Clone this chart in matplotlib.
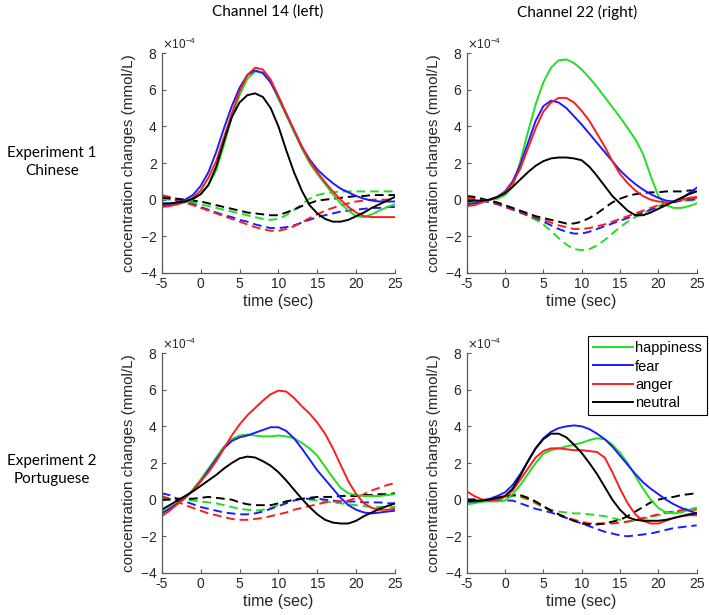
import matplotlib
matplotlib.use("Agg")
import matplotlib.pyplot as plt
from matplotlib.ticker import ScalarFormatter
from matplotlib.lines import Line2D

# time axis (sec) and unit of the values below
time = list(range(-5, 26))
SCALE = 1e-4

# Experiment 1 (Chinese), channel 14 - solid = oxy, dashed = deoxy
e1c14_hap = [-0.3, -0.3, -0.25, -0.15, 0.0, 0.3, 0.8, 1.6, 3.0, 4.5, 5.7, 6.6, 7.0, 6.95, 6.4, 5.5,
             4.6, 3.7, 2.8, 2.0, 1.4, 0.85, 0.3, -0.2, -0.6, -0.9, -0.95, -0.8, -0.6, -0.4, -0.25]
e1c14_fear = [-0.3, -0.25, -0.15, 0.0, 0.25, 0.75, 1.5, 2.6, 3.9, 5.1, 6.1, 6.8, 7.05, 6.9, 6.4, 5.6,
              4.7, 3.8, 2.9, 2.2, 1.65, 1.25, 0.9, 0.6, 0.4, 0.2, 0.05, -0.05, -0.1, -0.1, -0.1]
e1c14_ang = [-0.4, -0.35, -0.25, -0.1, 0.1, 0.5, 1.2, 2.1, 3.4, 4.7, 5.9, 6.8, 7.2, 7.1, 6.55, 5.65,
             4.7, 3.8, 2.9, 2.1, 1.5, 0.95, 0.45, 0.0, -0.4, -0.7, -0.9, -0.95, -0.95, -0.95, -0.95]
e1c14_neu = [-0.2, -0.2, -0.15, -0.1, 0.05, 0.3, 0.8, 1.8, 3.2, 4.5, 5.3, 5.7, 5.8, 5.6, 5.0, 4.0,
             2.7, 1.5, 0.5, -0.3, -0.75, -1.05, -1.2, -1.2, -1.1, -0.9, -0.7, -0.45, -0.25, -0.05, 0.15]
e1c14_hap_d = [0.05, 0.0, -0.05, -0.1, -0.15, -0.25, -0.35, -0.45, -0.55, -0.65, -0.75, -0.85, -0.95, -1.05, -1.1, -1.05,
               -0.85, -0.55, -0.25, 0.05, 0.25, 0.35, 0.4, 0.45, 0.45, 0.45, 0.45, 0.45, 0.45, 0.45, 0.45]
e1c14_fear_d = [0.15, 0.05, -0.05, -0.15, -0.25, -0.4, -0.55, -0.7, -0.85, -0.95, -1.1, -1.2, -1.35, -1.45, -1.55, -1.55,
                -1.5, -1.4, -1.25, -1.1, -0.95, -0.85, -0.75, -0.65, -0.6, -0.55, -0.5, -0.45, -0.45, -0.4, -0.4]
e1c14_ang_d = [0.25, 0.15, 0.0, -0.15, -0.3, -0.45, -0.6, -0.75, -0.9, -1.05, -1.2, -1.35, -1.5, -1.6, -1.7, -1.7,
               -1.6, -1.45, -1.25, -1.0, -0.8, -0.6, -0.45, -0.3, -0.2, -0.1, -0.05, 0.0, 0.0, 0.0, 0.0]
e1c14_neu_d = [0.1, 0.1, 0.05, 0.0, -0.05, -0.1, -0.2, -0.3, -0.4, -0.5, -0.6, -0.7, -0.75, -0.8, -0.85, -0.85,
               -0.7, -0.55, -0.35, -0.2, -0.05, 0.0, 0.05, 0.1, 0.15, 0.2, 0.2, 0.25, 0.25, 0.25, 0.25]

# Experiment 1 (Chinese), channel 22
e1c22_hap = [-0.2, -0.15, -0.05, 0.0, 0.05, 0.25, 0.7, 2.1, 3.7, 5.2, 6.4, 7.2, 7.6, 7.65, 7.45, 7.1,
             6.65, 6.15, 5.6, 5.05, 4.5, 3.9, 3.3, 2.5, 1.3, 0.2, -0.3, -0.45, -0.45, -0.35, -0.2]
e1c22_fear = [-0.25, -0.2, -0.1, 0.0, 0.15, 0.45, 1.0, 1.9, 3.1, 4.3, 5.1, 5.4, 5.3, 5.0, 4.55, 4.1,
              3.6, 3.1, 2.6, 2.1, 1.6, 1.2, 0.85, 0.55, 0.3, 0.1, -0.05, -0.1, 0.05, 0.35, 0.65]
e1c22_ang = [-0.35, -0.3, -0.15, 0.0, 0.15, 0.4, 0.9, 1.7, 2.8, 3.9, 4.8, 5.3, 5.55, 5.55, 5.3, 4.85,
             4.3, 3.6, 2.9, 2.1, 1.4, 0.9, 0.5, 0.2, 0.0, -0.1, -0.15, -0.1, 0.0, 0.1, 0.15]
e1c22_neu = [-0.1, -0.05, -0.05, 0.0, 0.15, 0.35, 0.7, 1.1, 1.5, 1.85, 2.1, 2.25, 2.3, 2.3, 2.25, 2.15,
             1.8, 1.3, 0.75, 0.2, -0.2, -0.6, -0.85, -0.85, -0.7, -0.5, -0.3, -0.1, 0.1, 0.3, 0.45]
e1c22_hap_d = [0.0, 0.0, -0.05, -0.1, -0.2, -0.35, -0.5, -0.7, -0.9, -1.1, -1.35, -1.7, -2.1, -2.45, -2.7, -2.75,
               -2.7, -2.5, -2.2, -1.85, -1.5, -1.2, -0.95, -0.75, -0.55, -0.35, -0.2, -0.1, -0.05, -0.05, -0.05]
e1c22_fear_d = [0.05, 0.0, -0.05, -0.15, -0.25, -0.4, -0.55, -0.7, -0.85, -1.0, -1.2, -1.4, -1.6, -1.75, -1.85, -1.85,
                -1.75, -1.6, -1.45, -1.3, -1.15, -1.0, -0.85, -0.7, -0.55, -0.4, -0.25, -0.15, -0.05, 0.0, 0.0]
e1c22_ang_d = [0.1, 0.05, 0.0, -0.1, -0.2, -0.35, -0.5, -0.65, -0.8, -0.95, -1.1, -1.25, -1.4, -1.5, -1.6, -1.6,
               -1.55, -1.45, -1.35, -1.2, -1.05, -0.9, -0.75, -0.6, -0.45, -0.3, -0.2, -0.1, 0.0, 0.05, 0.1]
e1c22_neu_d = [0.2, 0.15, 0.05, -0.05, -0.15, -0.3, -0.45, -0.6, -0.75, -0.9, -1.0, -1.1, -1.2, -1.3, -1.3, -1.2,
               -1.0, -0.75, -0.45, -0.15, 0.05, 0.2, 0.3, 0.35, 0.4, 0.4, 0.45, 0.45, 0.45, 0.5, 0.5]

# Experiment 2 (Portuguese), channel 14
e2c14_hap = [-0.7, -0.45, -0.2, 0.1, 0.55, 1.1, 1.7, 2.3, 2.9, 3.3, 3.5, 3.55, 3.5, 3.45, 3.45, 3.5,
             3.45, 3.35, 3.1, 2.8, 2.4, 1.8, 1.2, 0.65, 0.35, 0.25, 0.2, 0.2, 0.2, 0.25, 0.3]
e2c14_fear = [-0.75, -0.5, -0.2, 0.1, 0.5, 1.0, 1.6, 2.2, 2.8, 3.2, 3.4, 3.5, 3.65, 3.8, 3.95, 3.95,
              3.75, 3.35, 2.8, 2.2, 1.6, 1.1, 0.6, 0.1, -0.3, -0.55, -0.7, -0.75, -0.7, -0.65, -0.6]
e2c14_ang = [-0.9, -0.6, -0.25, 0.1, 0.5, 1.0, 1.5, 2.1, 2.8, 3.5, 4.1, 4.6, 5.0, 5.4, 5.75, 5.95,
             5.9, 5.55, 5.1, 4.7, 4.2, 3.6, 2.8, 1.9, 1.0, 0.3, -0.2, -0.45, -0.55, -0.55, -0.5]
e2c14_neu = [-0.55, -0.3, -0.05, 0.2, 0.45, 0.75, 1.05, 1.35, 1.7, 2.0, 2.25, 2.35, 2.3, 2.1, 1.85, 1.5,
             1.05, 0.55, 0.05, -0.4, -0.8, -1.1, -1.25, -1.3, -1.3, -1.15, -0.9, -0.7, -0.5, -0.35, -0.2]
e2c14_hap_d = [0.1, 0.05, 0.0, 0.0, -0.05, -0.1, -0.15, -0.2, -0.3, -0.4, -0.5, -0.55, -0.6, -0.55, -0.45, -0.3,
               -0.1, 0.0, 0.05, 0.0, -0.05, -0.1, -0.15, -0.2, -0.25, -0.3, -0.35, -0.4, -0.4, -0.4, -0.4]
e2c14_fear_d = [0.35, 0.25, 0.05, -0.1, -0.25, -0.4, -0.5, -0.6, -0.7, -0.75, -0.8, -0.8, -0.75, -0.65, -0.5, -0.35,
                -0.2, -0.05, 0.05, 0.05, 0.05, 0.0, -0.05, -0.1, -0.1, -0.1, -0.15, -0.15, -0.15, -0.2, -0.2]
e2c14_ang_d = [0.2, 0.05, -0.1, -0.3, -0.45, -0.6, -0.75, -0.85, -0.95, -1.05, -1.1, -1.1, -1.05, -1.0, -0.9, -0.8,
               -0.7, -0.55, -0.45, -0.35, -0.25, -0.15, -0.1, -0.1, -0.05, 0.1, 0.3, 0.5, 0.65, 0.8, 0.9]
e2c14_neu_d = [0.0, 0.0, 0.05, 0.05, 0.05, 0.1, 0.15, 0.1, 0.05, 0.0, -0.15, -0.25, -0.3, -0.3, -0.3, -0.2,
               -0.1, 0.0, 0.05, 0.1, 0.15, 0.15, 0.15, 0.2, 0.2, 0.2, 0.25, 0.25, 0.3, 0.3, 0.35]

# Experiment 2 (Portuguese), channel 22
e2c22_hap = [-0.25, -0.2, -0.1, -0.1, -0.1, -0.05, 0.3, 0.8, 1.4, 2.0, 2.5, 2.7, 2.8, 2.9, 3.0, 3.1,
             3.25, 3.35, 3.3, 3.0, 2.55, 2.0, 1.3, 0.6, 0.0, -0.45, -0.7, -0.75, -0.7, -0.55, -0.45]
e2c22_fear = [-0.1, -0.1, -0.05, 0.05, 0.2, 0.4, 0.8, 1.4, 2.1, 2.8, 3.35, 3.7, 3.9, 4.0, 4.05, 4.0,
              3.85, 3.6, 3.3, 2.9, 2.4, 1.9, 1.4, 0.95, 0.6, 0.3, 0.0, -0.25, -0.45, -0.6, -0.75]
e2c22_ang = [0.45, 0.2, 0.0, -0.05, 0.0, 0.15, 0.5, 1.1, 1.7, 2.3, 2.65, 2.8, 2.8, 2.75, 2.7, 2.7,
             2.65, 2.6, 2.3, 1.5, 0.6, -0.2, -0.8, -1.15, -1.3, -1.3, -1.15, -1.0, -0.9, -0.85, -0.85]
e2c22_neu = [-0.1, -0.05, -0.05, 0.0, 0.1, 0.2, 0.6, 1.3, 2.1, 2.8, 3.3, 3.6, 3.6, 3.4, 3.0, 2.55,
             2.0, 1.4, 0.7, 0.0, -0.55, -0.95, -1.1, -1.15, -1.15, -1.15, -1.1, -1.0, -0.9, -0.8, -0.75]
e2c22_hap_d = [-0.2, -0.15, -0.1, -0.05, 0.0, 0.1, 0.2, 0.15, 0.0, -0.2, -0.4, -0.55, -0.65, -0.7, -0.75, -0.75,
               -0.8, -0.85, -0.9, -1.0, -1.1, -1.2, -1.15, -1.05, -0.95, -0.85, -0.75, -0.65, -0.55, -0.5, -0.45]
e2c22_fear_d = [0.0, 0.0, -0.05, -0.05, -0.05, -0.05, -0.05, -0.2, -0.35, -0.5, -0.6, -0.7, -0.85, -1.0, -1.15, -1.3,
                -1.45, -1.6, -1.75, -1.85, -1.95, -2.0, -1.95, -1.9, -1.85, -1.75, -1.65, -1.55, -1.5, -1.45, -1.4]
e2c22_ang_d = [0.0, 0.0, 0.0, 0.0, 0.1, 0.2, 0.25, 0.2, 0.05, -0.15, -0.4, -0.6, -0.8, -0.95, -1.1, -1.2,
               -1.3, -1.3, -1.3, -1.3, -1.25, -1.2, -1.1, -1.0, -0.9, -0.8, -0.7, -0.65, -0.6, -0.55, -0.55]
e2c22_neu_d = [0.0, 0.0, -0.05, -0.05, 0.05, 0.15, 0.25, 0.25, 0.1, -0.1, -0.35, -0.6, -0.8, -1.0, -1.15, -1.3,
               -1.35, -1.35, -1.3, -1.2, -1.1, -0.9, -0.65, -0.4, -0.15, 0.0, 0.1, 0.15, 0.25, 0.3, 0.35]

emotions = ["happiness", "fear", "anger", "neutral"]
colors = ["#22dd22", "#1c1cff", "#ff1c1c", "black"]

panels = [
    ([e1c14_hap, e1c14_fear, e1c14_ang, e1c14_neu], [e1c14_hap_d, e1c14_fear_d, e1c14_ang_d, e1c14_neu_d]),
    ([e1c22_hap, e1c22_fear, e1c22_ang, e1c22_neu], [e1c22_hap_d, e1c22_fear_d, e1c22_ang_d, e1c22_neu_d]),
    ([e2c14_hap, e2c14_fear, e2c14_ang, e2c14_neu], [e2c14_hap_d, e2c14_fear_d, e2c14_ang_d, e2c14_neu_d]),
    ([e2c22_hap, e2c22_fear, e2c22_ang, e2c22_neu], [e2c22_hap_d, e2c22_fear_d, e2c22_ang_d, e2c22_neu_d]),
]

plt.rcParams["font.family"] = ["Liberation Sans", "DejaVu Sans"]
plt.rcParams["axes.unicode_minus"] = False

fig = plt.figure(figsize=(7.09, 6.15), dpi=100)
boxes = [
    [0.2282, 0.5561, 0.3290, 0.3577],
    [0.6582, 0.5561, 0.3244, 0.3577],
    [0.2282, 0.0683, 0.3290, 0.3577],
    [0.6582, 0.0683, 0.3244, 0.3577],
]
axes_gray = "#5a5a5a"

for i, (solid, dashed) in enumerate(panels):
    ax = fig.add_axes(boxes[i])
    for vals, c in zip(dashed, colors):
        ax.plot(time, [v * SCALE for v in vals], color=c, lw=1.4, dashes=(4.5, 2.5))
    for vals, c in zip(solid, colors):
        ax.plot(time, [v * SCALE for v in vals], color=c, lw=1.4)
    ax.set_xlim(-5, 25)
    ax.set_ylim(-4 * SCALE, 8 * SCALE)
    ax.set_xticks(range(-5, 26, 5))
    ax.set_yticks([k * SCALE for k in range(-4, 9, 2)])
    fmt = ScalarFormatter(useMathText=True)
    fmt.set_powerlimits((-1, 1))
    ax.yaxis.set_major_formatter(fmt)
    ax.yaxis.get_offset_text().set_fontsize(8.5)
    ax.yaxis.get_offset_text().set_color("#333333")
    for s in ["top", "right"]:
        ax.spines[s].set_visible(False)
    for s in ["left", "bottom"]:
        ax.spines[s].set_color(axes_gray)
        ax.spines[s].set_linewidth(0.9)
    ax.tick_params(direction="in", length=3, width=0.8, color=axes_gray,
                   labelsize=10, labelcolor="#262626", pad=3)
    ax.set_xlabel("time (sec)", fontsize=11.5, color="#262626", labelpad=2)
    ax.set_ylabel("concentration changes (mmol/L)", fontsize=11, color="#262626", labelpad=3)
    if i == 3:
        handles = [Line2D([], [], color=c, lw=1.4) for c in colors]
        leg = ax.legend(handles, emotions, loc="upper right", bbox_to_anchor=(1.045, 1.077),
                        borderaxespad=0, fontsize=10.5, handlelength=2.7, handletextpad=0.15,
                        labelspacing=0.3, borderpad=0.35, fancybox=False, framealpha=1)
        leg.get_frame().set_edgecolor("black")
        leg.get_frame().set_linewidth(0.8)

title_font = ["Lato", "DejaVu Sans"]
fig.text(268 / 709, 1 - 12 / 615, "Channel 14 (left)", ha="center", va="center",
         fontsize=11, family=title_font)
fig.text(577 / 709, 1 - 12 / 615, "Channel 22 (right)", ha="center", va="center",
         fontsize=11, family=title_font)
fig.text(52 / 709, 1 - 162 / 615, "Experiment 1\nChinese", ha="center", va="center",
         fontsize=11, family=title_font, linespacing=1.3)
fig.text(52 / 709, 1 - 470 / 615, "Experiment 2\nPortuguese", ha="center", va="center",
         fontsize=11, family=title_font, linespacing=1.3)

fig.savefig("out.png", dpi=100)
